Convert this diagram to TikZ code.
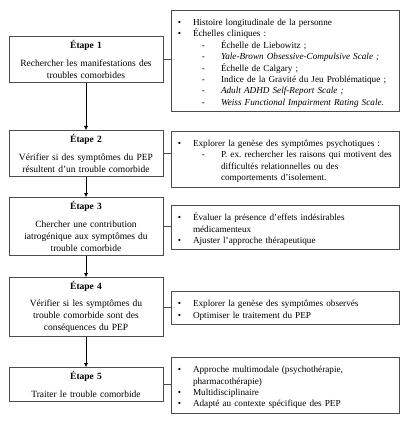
\documentclass[tikz,border=0pt]{standalone}
\usepackage{fontspec}
\setmainfont{Liberation Serif}
\usepackage{enumitem}
\usetikzlibrary{arrows.meta,positioning}
\frenchspacing
\setlist[itemize,1]{label=\textbullet, leftmargin=19pt, labelsep=12pt, itemsep=0pt, topsep=0pt, parsep=0pt, partopsep=0pt}
\setlist[itemize,2]{label=-, leftmargin=28pt, labelsep=16pt, itemsep=0pt, topsep=0pt, parsep=0pt, partopsep=0pt}
\tikzset{
    -{Latex[length=4pt,width=4pt]},line width=0.6pt,
    etape/.style ={rectangle, draw=black!70, text width=148pt, align=center, anchor=north, inner xsep=3pt, inner ysep=4pt, font=\fontsize{9.5}{12}\selectfont},
    liste/.style ={rectangle, draw=black!70, text width=222pt, align=left, anchor=north, inner xsep=3pt, inner ysep=4pt, font=\fontsize{9.2}{11.4}\selectfont},
    lien/.style={-, draw=black!70}
}

\begin{document}
\begin{tikzpicture}[x=1pt,y=-1pt]
\useasboundingbox (0,0) rectangle (407,430);
 \node[etape] (e1) at (86,36) {\textbf{Étape 1}\\[6pt]Rechercher les manifestations des\\troubles comorbides\par\vspace{7pt}};
    \node[etape] (e2) at (86,130) {\textbf{Étape 2}\\[6pt]Vérifier si des symptômes du PEP\\résultent d’un trouble comorbide\par\vspace{6pt}};
    \node[etape] (e3) at (86,197) {\textbf{Étape 3}\\[6pt]Chercher une contribution\\iatrogénique aux symptômes du\\trouble comorbide\par\vspace{9pt}};
    \node[etape] (e4) at (86,277) {\textbf{Étape 4}\\[5pt]Vérifier si les symptômes du\\trouble comorbide sont des\\conséquences du PEP\par\vspace{9pt}};
    \node[etape] (e5) at (86,367) {\textbf{Étape 5}\\[6pt]Traiter le trouble comorbide};

    \node[liste] (l1) at (285,10) {\begin{itemize}
      \item Histoire longitudinale de la personne
      \item Échelles cliniques :
      \begin{itemize}
        \item Échelle de Liebowitz ;
        \item \textit{Yale-Brown Obsessive-Compulsive Scale ;}
        \item Échelle de Calgary ;
        \item Indice de la Gravité du Jeu Problématique ;
        \item \textit{Adult ADHD Self-Report Scale ;}
        \item \textit{Weiss Functional Impairment Rating Scale.}
      \end{itemize}
    \end{itemize}\vspace{4pt}};
    \node[liste] (l2) at (285,131) {\begin{itemize}
      \item Explorer la genèse des symptômes psychotiques :
      \begin{itemize}
        \item P. ex. rechercher les raisons qui motivent des\\difficultés relationnelles ou des\\comportements d’isolement.
      \end{itemize}
    \end{itemize}\vspace{7pt}};
    \node[liste] (l3) at (285,205) {\begin{itemize}
      \item Évaluer la présence d’effets indésirables\\médicamenteux
      \item Ajuster l’approche thérapeutique
    \end{itemize}};
    \node[liste] (l4) at (285,291) {\begin{itemize}
      \item Explorer la genèse des symptômes observés
      \item Optimiser le traitement du PEP
    \end{itemize}\vspace{6pt}};
    \node[liste] (l5) at (285,357) {\begin{itemize}
      \item Approche multimodale (psychothérapie,\\pharmacothérapie)
      \item Multidisciplinaire
      \item Adapté au contexte spécifique des PEP
    \end{itemize}\vspace{6pt}};

    \path (e1) edge (e2);
    \path (e2) edge (e3);
    \path (e3) edge (e4);
    \path (e4) edge (e5);

    \draw[lien] (e1.east) -- (e1.east -| l1.west);
    \draw[lien] (e2.east) -- (e2.east -| l2.west);
    \draw[lien] (e3.east) -- (e3.east -| l3.west);
    \draw[lien] (e4.east) -- (e4.east -| l4.west);
    \draw[lien] (e5.east) -- (e5.east -| l5.west);
\end{tikzpicture}
\end{document}
